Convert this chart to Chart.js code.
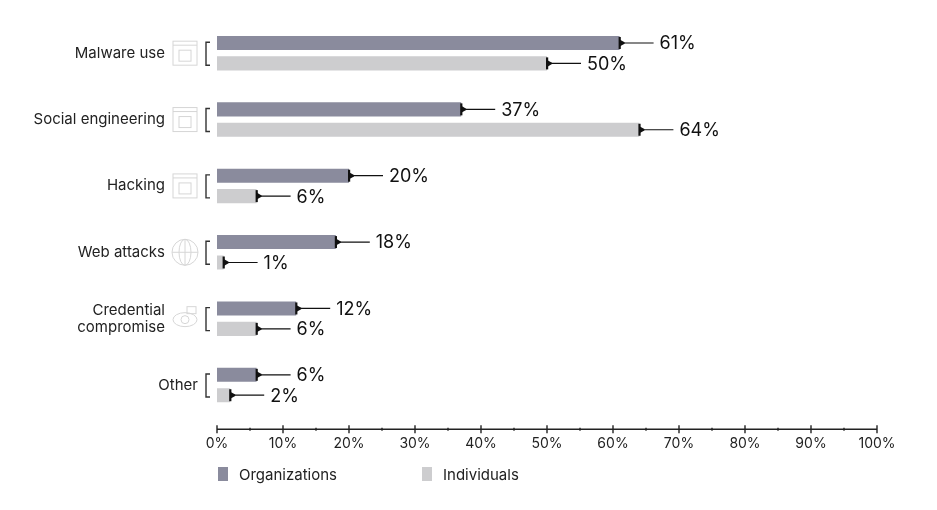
<!DOCTYPE html>
<html>
<head>
<meta charset="utf-8">
<script src="https://cdn.jsdelivr.net/npm/chart.js@4/dist/chart.umd.min.js"></script>
<style>
  html, body { margin: 0; padding: 0; background: #fff; }
  #wrap { width: 937px; height: 510px; position: relative; }
</style>
</head>
<body>
<div id="wrap"><canvas id="attackChart" width="937" height="510"></canvas></div>
<script>
// categories + icons shown next to them (null = no icon)
const categories = ['Malware use', 'Social engineering', 'Hacking', 'Web attacks', ['Credential', 'compromise'], 'Other']
const categoryIcons = ['window', 'window', 'window', 'globe', 'eye', null]

// series values, percent
const organizations = [61, 37, 20, 18, 12, 6]
const individuals = [50, 64, 6, 1, 6, 2]

const seriesNames = ['Organizations', 'Individuals']
const seriesColors = ['#8a8b9d', '#cdcdcf']

const FONT = 'Inter, "Noto Sans", sans-serif'

// draws the bits chart.js doesn't do on its own: left labels, icons, brackets,
// the end markers + leader lines, the offset x axis, and the legend
const decorPlugin = {
  id: 'decor',
  afterDatasetsDraw(chart) {
    const ctx = chart.ctx
    const x = chart.scales.x
    const y = chart.scales.y
    const area = chart.chartArea
    ctx.save()

    // end markers + value labels
    chart.data.datasets.forEach((ds, di) => {
      const meta = chart.getDatasetMeta(di)
      meta.data.forEach((bar, i) => {
        const ex = bar.x
        const cy = bar.y
        ctx.fillStyle = '#111'
        ctx.fillRect(ex - 1, cy - 6, 2.2, 12)
        ctx.beginPath()
        ctx.moveTo(ex, cy - 3.5)
        ctx.lineTo(ex + 5, cy - 0.7)
        ctx.lineTo(ex + 5, cy + 0.7)
        ctx.lineTo(ex, cy + 3.5)
        ctx.closePath()
        ctx.fill()
        ctx.strokeStyle = '#111'
        ctx.lineWidth = 1.2
        ctx.beginPath()
        ctx.moveTo(ex, cy)
        ctx.lineTo(ex + 34, cy)
        ctx.stroke()
        ctx.font = '18px ' + FONT
        ctx.textAlign = 'left'
        ctx.textBaseline = 'middle'
        ctx.fillText(ds.data[i] + '%', ex + 40, cy + 1)
      })
    })

    // category labels, icons, brackets
    categories.forEach((cat, i) => {
      const cy = y.getPixelForValue(i)
      const icon = categoryIcons[i]
      const labelRight = icon ? 165 : 198
      ctx.fillStyle = '#222'
      ctx.font = '15px ' + FONT
      ctx.textAlign = 'right'
      ctx.textBaseline = 'middle'
      const lines = Array.isArray(cat) ? cat : [cat]
      lines.forEach((ln, k) => {
        ctx.fillText(ln, labelRight, cy + (k - (lines.length - 1) / 2) * 17)
      })

      // bracket
      ctx.strokeStyle = '#333'
      ctx.lineWidth = 1.4
      ctx.beginPath()
      ctx.moveTo(210, cy - 11)
      ctx.lineTo(206, cy - 11)
      ctx.lineTo(206, cy + 12)
      ctx.lineTo(210, cy + 12)
      ctx.stroke()

      if (icon) drawIcon(ctx, icon, 185, cy)
    })

    // x axis, drawn a bit below the plot area
    const axisY = area.bottom + 11
    ctx.strokeStyle = '#222'
    ctx.lineWidth = 1.4
    ctx.beginPath()
    ctx.moveTo(x.getPixelForValue(0), axisY)
    ctx.lineTo(x.getPixelForValue(100), axisY)
    ctx.stroke()
    for (let v = 0; v <= 100; v += 5) {
      const px = x.getPixelForValue(v)
      const h = v % 10 === 0 ? 4 : 1.5
      ctx.beginPath()
      ctx.moveTo(px, axisY - h)
      ctx.lineTo(px, axisY + h)
      ctx.stroke()
    }

    // legend
    const legendX = [218, 422]
    chart.data.datasets.forEach((ds, di) => {
      ctx.fillStyle = ds.backgroundColor
      ctx.fillRect(legendX[di], 467, 10, 14)
      ctx.fillStyle = '#222'
      ctx.font = '15px ' + FONT
      ctx.textAlign = 'left'
      ctx.textBaseline = 'middle'
      ctx.fillText(ds.label, legendX[di] + 21, 475)
    })
    ctx.restore()
  }
}

// faint line icons, rough versions of the ones in the source
function drawIcon(ctx, kind, cx, cy) {
  ctx.save()
  ctx.strokeStyle = '#d6d6d6'
  ctx.lineWidth = 1
  if (kind === 'window') {
    ctx.strokeRect(cx - 12, cy - 12, 24, 24)
    ctx.beginPath()
    ctx.moveTo(cx - 12, cy - 8)
    ctx.lineTo(cx + 12, cy - 8)
    ctx.stroke()
    ctx.strokeRect(cx - 6, cy - 3, 12, 11)
  } else if (kind === 'globe') {
    ctx.beginPath()
    ctx.arc(cx, cy, 13, 0, Math.PI * 2)
    ctx.moveTo(cx - 13, cy)
    ctx.lineTo(cx + 13, cy)
    ctx.moveTo(cx, cy - 13)
    ctx.lineTo(cx, cy + 13)
    ctx.stroke()
    ctx.beginPath()
    ctx.ellipse(cx, cy, 6, 13, 0, 0, Math.PI * 2)
    ctx.stroke()
  } else if (kind === 'eye') {
    ctx.beginPath()
    ctx.ellipse(cx, cy + 1, 12, 7, 0, 0, Math.PI * 2)
    ctx.stroke()
    ctx.beginPath()
    ctx.arc(cx, cy + 1, 4, 0, Math.PI * 2)
    ctx.stroke()
    ctx.strokeRect(cx + 2, cy - 12, 9, 7)
  }
  ctx.restore()
}

const ctx = document.getElementById('attackChart')
new Chart(ctx, {
  type: 'bar',
  data: {
    labels: categories,
    datasets: [
      { label: seriesNames[0], data: organizations, backgroundColor: seriesColors[0] },
      { label: seriesNames[1], data: individuals, backgroundColor: seriesColors[1] }
    ]
  },
  options: {
    indexAxis: 'y',
    responsive: false,
    animation: false,
    devicePixelRatio: 1,
    categoryPercentage: 0.615,
    barPercentage: 0.69,
    layout: { padding: { left: 217, right: 60, top: 20, bottom: 41 } },
    plugins: { legend: { display: false }, tooltip: { enabled: false } },
    scales: {
      x: {
        min: 0,
        max: 100,
        grid: { display: false, drawTicks: false },
        border: { display: false },
        ticks: {
          stepSize: 10,
          padding: 17,
          color: '#222',
          font: { family: FONT, size: 14 },
          callback: v => v + '%'
        }
      },
      y: { display: false }
    }
  },
  plugins: [decorPlugin]
})
</script>
</body>
</html>
